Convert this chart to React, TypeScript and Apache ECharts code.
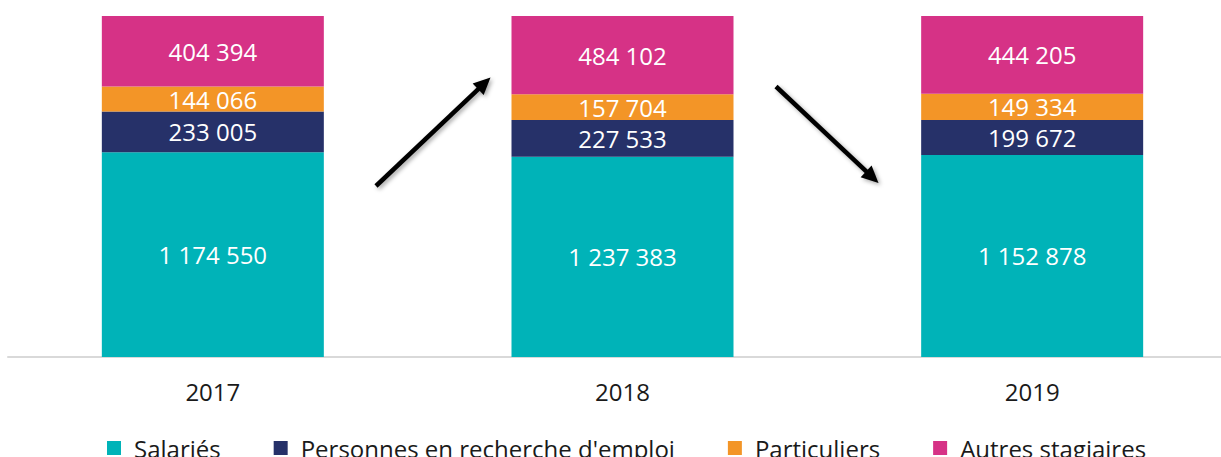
import React, { useEffect, useRef } from "react";
import * as echarts from "echarts";

const categories = ["2017", "2018", "2019"];
const seriesNames = ["Salariés", "Personnes en recherche d'emploi", "Particuliers", "Autres stagiaires"];
const salaries = [1174550, 1237383, 1152878];
const demandeurs = [233005, 227533, 199672];
const particuliers = [144066, 157704, 149334];
const autres = [404394, 484102, 444205];
const colors = ["#00b3b8", "#263169", "#f39527", "#d63286"];

const FONT = "'Open Sans', 'Noto Sans', sans-serif";

function fmt(v: number): string {
  return String(v).replace(/\B(?=(\d{3})+(?!\d))/g, " ");
}

function arrow(x1: number, y1: number, x2: number, y2: number) {
  const dx = x2 - x1;
  const dy = y2 - y1;
  const len = Math.sqrt(dx * dx + dy * dy);
  const ux = dx / len;
  const uy = dy / len;
  const nx = -uy;
  const ny = ux;
  const hl = 17;
  const hw = 8;
  const bx = x2 - ux * hl;
  const by = y2 - uy * hl;
  const shadow = { shadowBlur: 4, shadowColor: "rgba(0,0,0,0.35)", shadowOffsetX: 2, shadowOffsetY: 2 };
  return [
    {
      type: "line",
      shape: { x1, y1, x2: bx + ux * 2, y2: by + uy * 2 },
      style: { stroke: "#000", lineWidth: 4.5, ...shadow },
      z: 100,
    },
    {
      type: "polygon",
      shape: {
        points: [
          [x2, y2],
          [bx + nx * hw, by + ny * hw],
          [bx - nx * hw, by - ny * hw],
        ],
      },
      style: { fill: "#000", ...shadow },
      z: 100,
    },
  ];
}

export default function App() {
  const ref = useRef<HTMLDivElement>(null);

  useEffect(() => {
    if (!ref.current) return;
    const chart = echarts.init(ref.current, undefined, { renderer: "svg" });
    const raw = [salaries, demandeurs, particuliers, autres];
    const totals = categories.map((_, i) => raw.reduce((s, arr) => s + arr[i], 0));

    const series = raw.map((arr, k) => ({
      name: seriesNames[k],
      type: "bar",
      stack: "total",
      barWidth: 222,
      itemStyle: { color: colors[k] },
      label: {
        show: true,
        position: "inside",
        color: "#ffffff",
        fontFamily: FONT,
        fontSize: 24,
        formatter: (p: any) => fmt(arr[p.dataIndex]),
      },
      data: arr.map((v, i) => (v / totals[i]) * 100),
    }));

    chart.setOption({
      animation: false,
      backgroundColor: "#ffffff",
      grid: { left: 8, width: 1229, top: 16, bottom: 100, containLabel: false },
      xAxis: {
        type: "category",
        data: categories,
        axisLine: { show: true, lineStyle: { color: "#d9d9d9", width: 2 } },
        axisTick: { show: false },
        axisLabel: { color: "#1a1a1a", fontFamily: FONT, fontSize: 24, margin: 22 },
      },
      yAxis: { type: "value", min: 0, max: 100, show: false, splitLine: { show: false } },
      legend: {
        data: seriesNames,
        left: 102,
        top: 431,
        icon: "rect",
        itemWidth: 14,
        itemHeight: 14,
        itemGap: 53,
        textStyle: { color: "#1a1a1a", fontFamily: FONT, fontSize: 24, padding: [0, 0, 0, 8] },
      },
      series,
      graphic: [...arrow(376, 186, 490.5, 77.5), ...arrow(776, 86.5, 878.5, 183)],
    });
    return () => chart.dispose();
  }, []);

  return (
    <div
      style={{ position: "fixed", left: 0, top: 0, width: 1221, height: 457, overflow: "hidden", background: "#fff" }}
    >
      <div ref={ref} style={{ position: "absolute", left: 0, top: 0, width: 1245, height: 457 }} />
    </div>
  );
}
